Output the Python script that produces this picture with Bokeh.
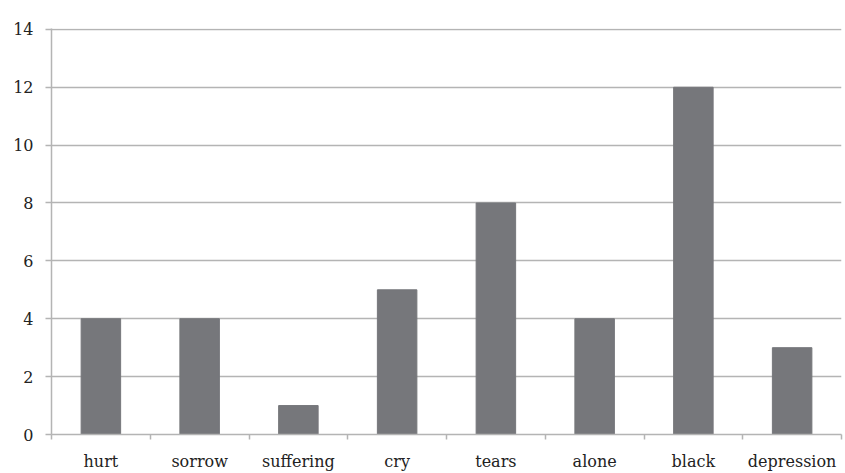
from bokeh.plotting import figure
from bokeh.models import FixedTicker, Range1d
from bokeh.embed import file_html
from bokeh.resources import INLINE

categories = ["hurt", "sorrow", "suffering", "cry", "tears", "alone", "black", "depression"]
counts = [4, 4, 1, 5, 8, 4, 12, 3]
y_ticks = [0, 2, 4, 6, 8, 10, 12, 14]

n = len(categories)
centers = [i + 0.5 for i in range(n)]
bounds = list(range(n + 1))

p = figure(width=845, height=473, output_backend="svg", toolbar_location=None,
           x_range=Range1d(0, n), y_range=Range1d(0, 14.03),
           min_border_left=51, min_border_top=28, min_border_right=4, min_border_bottom=38)
p.outline_line_color = None
p.background_fill_color = "white"

p.vbar(x=centers, top=counts, width=0.4, fill_color="#76777b", line_color="#76777b")

font = "DejaVu Serif"
grid_col = "#b4b4b4"

xa = p.xaxis[0]
xa.ticker = FixedTicker(ticks=centers, minor_ticks=bounds)
xa.major_label_overrides = {c: lab for c, lab in zip(centers, categories)}
xa.major_tick_line_color = None
xa.major_tick_out = 5
xa.major_tick_in = 0
xa.minor_tick_line_color = grid_col
xa.minor_tick_line_width = 1.5
xa.minor_tick_out = 5
xa.minor_tick_in = 0
xa.axis_line_color = grid_col
xa.axis_line_width = 1.5
xa.major_label_standoff = 12
xa.major_label_text_font = font
xa.major_label_text_font_size = "16px"
xa.major_label_text_color = "#222222"

ya = p.yaxis[0]
ya.ticker = FixedTicker(ticks=y_ticks)
ya.major_tick_line_color = grid_col
ya.major_tick_line_width = 1.5
ya.major_tick_out = 6
ya.major_tick_in = 0
ya.minor_tick_line_color = None
ya.axis_line_color = grid_col
ya.axis_line_width = 1.5
ya.major_label_standoff = 12
ya.major_label_text_font = font
ya.major_label_text_font_size = "16px"
ya.major_label_text_color = "#222222"

p.xgrid.grid_line_color = None
p.ygrid.ticker = FixedTicker(ticks=y_ticks)
p.ygrid.grid_line_color = grid_col
p.ygrid.grid_line_width = 1.5

open("out.html", "w").write(file_html(p, INLINE))
